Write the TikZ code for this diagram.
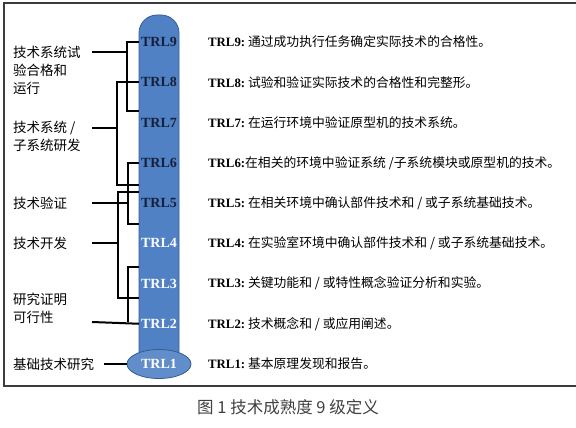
\documentclass[tikz,border=0pt]{standalone}
\usepackage{fontspec}
\setmainfont{Liberation Serif}
\newfontfamily\cjk{Noto Sans CJK SC}
\usepackage{xcolor}
\usetikzlibrary{positioning, shapes.geometric, calc}
\definecolor{barblue}{RGB}{79, 129, 196}
\definecolor{bardraw}{RGB}{52, 92, 150}
\definecolor{navytxt}{RGB}{22, 32, 58}
\definecolor{framegray}{RGB}{60, 60, 60}
\tikzset{
  brk/.style={line width=2pt, black},
  trl/.style={font=\fontsize{14}{15}\selectfont\bfseries, inner sep=0pt},
  desc/.style={anchor=west, font=\fontsize{12.8}{15}\selectfont, inner sep=0pt},
  stage/.style={anchor=west, align=left, font=\cjk\fontsize{13.5}{18}\selectfont,
                inner sep=0pt},
}

\begin{document}
\begin{tikzpicture}[x=1pt, y=-1pt]
  \useasboundingbox (0,0) rectangle (576,428);
  % frame
  \draw[framegray, line width=1.5pt] (580,3) -- (4,3) -- (4,386) -- (580,386);

  % ---- TRL column ----
  \draw[bardraw, fill=barblue, line width=0.8pt, rounded corners=18pt]
    (139,364) -- (139,15) -- (179,15) -- (179,364);
  \node[trl, ellipse, draw=bardraw, fill=barblue!90!white, line width=0.8pt,
        minimum width=64pt, minimum height=29pt, text=white] (t1) at (159,364) {TRL1};
  \foreach \i in {2,...,9} {
    \pgfmathsetmacro\yy{364-40.25*(\i-1)}
    \ifnum\i>4 \def\tc{navytxt}\else\def\tc{white}\fi
    \node[trl, text=\tc] (t\i) at (159,\yy) {TRL\i};
  }
  \coordinate (barL) at (139,0);

  % ---- definitions ----
  \foreach \i/\txt in {9/{~通过成功执行任务确定实际技术的合格性。},
                       8/{~试验和验证实际技术的合格性和完整形。},
                       7/{~在运行环境中验证原型机的技术系统。},
                       6/{在相关的环境中验证系统 /子系统模块或原型机的技术。},
                       5/{~在相关环境中确认部件技术和 / 或子系统基础技术。},
                       4/{~在实验室环境中确认部件技术和 / 或子系统基础技术。},
                       3/{~关键功能和 / 或特性概念验证分析和实验。},
                       2/{~技术概念和 / 或应用阐述。},
                       1/{~基本原理发现和报告。}}
    \node[desc] (d\i) at ($(t\i)+(49,0)$) {\textbf{TRL\i:}{\cjk\txt}};

  % ---- stages ----
  \node[stage] (lA) at (13,70)  {技术系统试\\验合格和\\运行};
  \node[stage] (lB) at (13,136) {技术系统 /\\子系统研发};
  \node[stage] (lC) at (13,203) {技术验证};
  \node[stage] (lD) at (13,243) {技术开发};
  \node[stage] (lE) at (13,308) {研究证明\\可行性};
  \node[stage] (lF) at (13,364) {基础技术研究};

  % ---- brackets ----
  \draw[brk] (t9 -| barL) -| (127,111) -- +(12,0);
  \draw[brk] (92,52) -- (127,52);
  \draw[brk] (t8 -| barL) -| (117,185) -- +(22,0);
  \draw[brk] (92,128) -- (117,128);
  \draw[brk] (t6 -| barL) -| (128,224) -- +(11,0);
  \draw[brk] (92,203) -- (128,203);
  \draw[brk] (139,192) -| (118,298) -- +(21,0);
  \draw[brk] (92,243) -- (118,243);
  \draw[brk] (139,267) -| (128,322);
  \draw[brk] (92,322) -- (t2 -| barL);
  \draw[brk] (104,364) -- (t1.west);

  % caption
  \node[font=\cjk\fontsize{16.5}{18}\selectfont, text=black!75] (cap) at (288,407)
    {图 1 技术成熟度 9 级定义};
\end{tikzpicture}
\end{document}
